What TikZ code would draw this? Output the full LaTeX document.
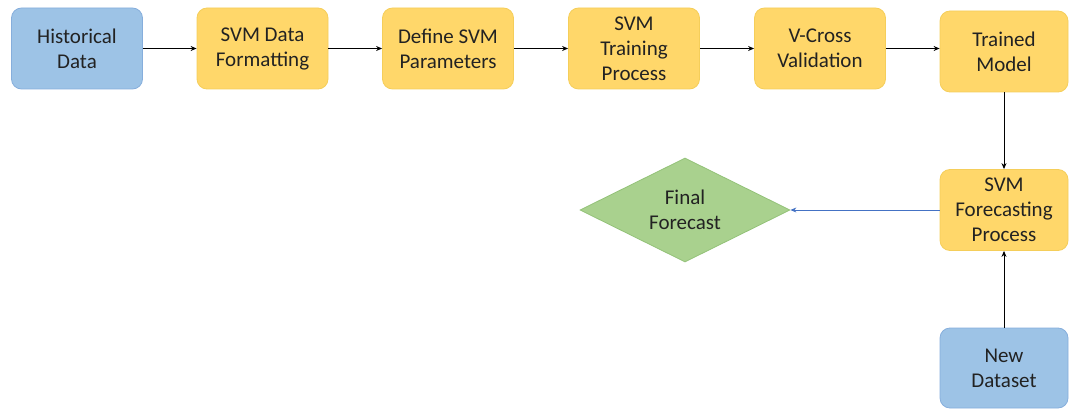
\documentclass[tikz,border=0pt]{standalone}
\usepackage{fontspec}
\setmainfont{Carlito}
\usetikzlibrary{shapes.geometric,arrows.meta}
\definecolor{bluefill}{HTML}{9DC3E6}
\definecolor{blueline}{HTML}{86AEDC}
\definecolor{yelfill}{HTML}{FFD76A}
\definecolor{yelline}{HTML}{F5CE5A}
\definecolor{grnfill}{HTML}{A9D18E}
\definecolor{grnline}{HTML}{93C278}
\definecolor{txt}{HTML}{222222}
\definecolor{flowblue}{HTML}{4472C4}
\begin{document}
\begin{tikzpicture}[x=1pt,y=-1pt,
  box/.style={rounded corners=10pt, minimum width=131pt, minimum height=81pt,
    align=center, text=txt, font=\fontsize{21}{25}\selectfont, line width=0.8pt, inner sep=2pt},
  inbox/.style={box, fill=bluefill, draw=blueline},
  stepbox/.style={box, fill=yelfill, draw=yelline},
  decision/.style={diamond, aspect=2, fill=grnfill, draw=grnline, line width=0.8pt,
    align=center, text=txt, font=\fontsize{21}{25}\selectfont,
    minimum width=210pt, minimum height=104pt, inner sep=0pt},
  flow/.style={-{Stealth[length=6pt,width=5pt]}, line width=1pt, black},
  flowb/.style={-{Stealth[length=6pt,width=5pt]}, line width=0.8pt, flowblue}]
\useasboundingbox (0,0) rectangle (1069,409);
\node[inbox]   (hist)  at (77,48.5)   {Historical\\Data};
\node[stepbox] (fmt)   at (262.5,48.5) {SVM Data\\Formatting};
\node[stepbox] (param) at (448,48.5)  {Define SVM\\Parameters};
\node[stepbox] (train) at (634,48.5)  {SVM\\Training\\Process};
\node[stepbox] (cv)    at (820,48.5)  {V-Cross\\Validation};
\node[stepbox, minimum width=128pt] (model) at (1004,51.5) {Trained\\Model};
\node[stepbox, minimum width=128pt] (fcst)  at (1004,210)  {SVM\\Forecasting\\Process};
\node[inbox, minimum width=128pt, minimum height=80pt] (new) at (1004,368) {New\\Dataset};
\node[decision] (final) at (685,210) {Final\\Forecast};
\draw[flow] (hist) -- (fmt);
\draw[flow] (fmt) -- (param);
\draw[flow] (param) -- (train);
\draw[flow] (train) -- (cv);
\draw[flow] (cv) -- (cv.east -| model.west);
\draw[flow] (model) -- (fcst);
\draw[flow] (new) -- (fcst);
\draw[flowb] (fcst) -- (final);
\end{tikzpicture}
\end{document}
